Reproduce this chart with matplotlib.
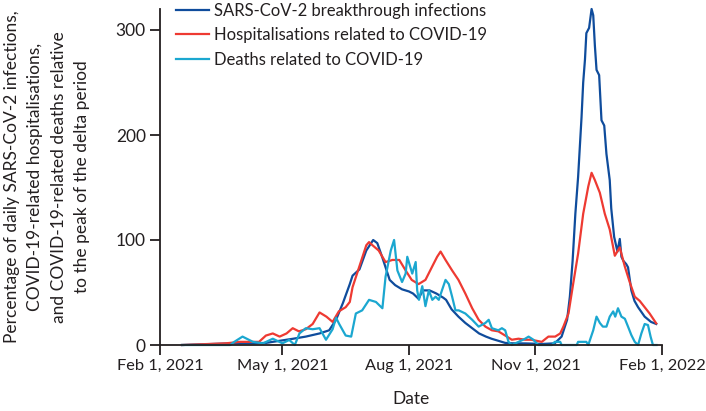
import matplotlib
matplotlib.use("Agg")
import matplotlib.pyplot as plt
import matplotlib.dates as mdates
import numpy as np
from datetime import datetime

# ---- data (days since 1 Feb 2021, percentage of delta peak) ----
inf_days = [16, 53, 68, 77, 87, 97, 106, 116, 123, 128, 133, 138, 140, 145, 150, 155, 158,
            162, 167, 171, 176, 181, 184, 188, 191, 196, 201, 206, 208, 212, 217, 222, 227,
            232, 237, 241, 246, 251, 256, 266, 278, 287, 292, 296, 298, 300, 302, 304, 305.4,
            306.5, 307.7, 309, 310, 312, 313.8, 315, 316.2, 317.4, 319.3, 321, 323, 324.6, 327,
            328.1, 330.2, 332.6, 334.3, 335.5, 337, 339, 340.3, 342.7, 345, 347.6, 352.4, 357,
            360.8]
inf_vals = [0, 1.6, 1.6, 2, 4, 6, 8, 11, 14, 24, 40, 58, 66, 72, 90, 100, 97,
            82, 62, 57, 53, 51, 49, 44, 52, 52, 49, 45, 43, 34, 27, 21, 16,
            11, 8, 6, 4, 2, 1.6, 1.5, 1, 1.6, 8, 24, 46, 80, 125, 160, 192,
            217, 250, 272, 297, 302, 320, 314, 285, 262, 257, 214, 209, 182, 157,
            130, 103, 89, 101, 84, 80, 77, 74, 52, 42, 36, 27, 22,
            20]

hosp_days = [16, 48, 58, 68, 72, 77, 82, 87, 92, 96.5, 101, 106, 111, 116, 121, 125.5, 130,
             135, 138, 140, 145, 150, 152, 154.5, 159, 164, 169, 174, 178.6, 183, 188, 193,
             198, 201.5, 204, 207.6, 212.4, 217, 222, 227, 231.7, 236.6, 241.3, 246, 251,
             255.8, 260.7, 265.5, 270, 277.6, 282.4, 287.3, 291, 293.3, 297, 300.5, 304,
             307.7, 311.4, 313.8, 316.2, 319.8, 323.4, 327, 330.7, 334.3, 337.9, 341.5,
             345.2, 348.8, 352.4, 356, 360.8]
hosp_vals = [0, 1.6, 3, 3, 3, 9, 11, 8, 11, 16, 13, 15, 20, 31, 27, 22, 32,
             36, 41, 55, 75, 95, 98, 95, 90, 79, 81, 81, 71, 62, 58, 62,
             75, 84, 89, 81, 71, 62, 49, 35, 24, 17.5, 14, 13, 9,
             5, 6, 5, 5, 3, 8, 8, 11, 17.5, 30, 59, 87,
             125, 151, 164, 157, 145, 125, 110, 85, 93, 75, 60,
             46, 42, 36, 30, 20.6]

death_days = [16, 51, 54, 60, 67.6, 75, 82, 89, 94, 98, 101.4, 106, 111, 116, 120.7, 125.5,
              128, 130.3, 135, 139, 142.4, 147, 152, 157, 161.7, 164, 167.8, 170.2, 172.6,
              176, 178.6, 179.8, 183.4, 185.9, 187, 188.3, 190.7, 193, 195.5, 198, 200.4,
              202.7, 205, 207.6, 210, 212.4, 214.8, 217.2, 222, 227, 231.7, 236.6, 239, 241.3,
              246, 248.6, 251, 253.4, 255.8, 260.7, 265.5, 268, 271.5, 275, 285, 287, 291, 292,
              303, 304, 310, 311.4, 315, 317.4, 319.8, 322, 324.6, 327, 329.5, 331, 333, 335.5,
              338, 340.3, 342.7, 345.2, 347.6, 350, 352.4, 354.8, 356.7, 358.4, 361]
death_vals = [0, 0, 3, 8, 3, 1.6, 6, 1.6, 4.8, 0, 11, 16, 15, 16, 5, 15,
              26, 20, 9, 8, 30, 33, 43, 41, 35, 65, 90, 100, 71,
              60, 68, 84, 68, 79, 52, 43, 56, 37, 52, 43, 46,
              43, 52, 62, 58, 46, 33, 33, 30, 24, 17.5, 21, 24, 16,
              14, 16, 14, 3, 0, 3, 6, 8, 5, 0, 0, 3, 3, 0,
              0, 3, 3, 0, 14, 27, 21, 17.5, 17.5, 27, 32, 27, 35, 27,
              25, 17.5, 9.5, 3, 0, 11, 20, 19, 8, 0, 0]

series_labels = ["SARS-CoV-2 breakthrough infections",
                 "Hospitalisations related to COVID-19",
                 "Deaths related to COVID-19"]
series_colors = ["#0f4c9c", "#ee3a32", "#1ba7d0"]

tick_dates = [datetime(2021, 2, 1), datetime(2021, 5, 1), datetime(2021, 8, 1),
              datetime(2021, 11, 1), datetime(2022, 2, 1)]
tick_labels = ["Feb 1, 2021", "May 1, 2021", "Aug 1, 2021", "Nov 1, 2021", "Feb 1, 2022"]
y_ticks = [0, 100, 200, 300]

ylabel_text = ("Percentage of daily SARS-CoV-2 infections,\n"
               "COVID-19-related hospitalisations,\n"
               "and COVID-19-related deaths relative\n"
               "to the peak of the delta period")

plt.rcParams['font.family'] = ['Lato', 'DejaVu Sans']
FS = 12.5
TXT = "#231f20"

fig = plt.figure(figsize=(7.06, 4.11), dpi=100)
ax = fig.add_axes([160 / 706, 1 - 345 / 411, (662 - 160) / 706, 336 / 411])

base = mdates.date2num(datetime(2021, 2, 1))
for d, v, lab, col in zip([inf_days, hosp_days, death_days],
                          [inf_vals, hosp_vals, death_vals],
                          series_labels, series_colors):
    ax.plot(base + np.array(d), v, color=col, lw=1.6, label=lab, clip_on=False)

ax.set_xlim(mdates.date2num(tick_dates[0]), mdates.date2num(tick_dates[-1]))
ax.set_ylim(0, 320)
ax.set_xticks([mdates.date2num(t) for t in tick_dates])
ax.set_xticklabels(tick_labels)
ax.set_yticks(y_ticks)
for s in ["top", "right"]:
    ax.spines[s].set_visible(False)
for s in ["left", "bottom"]:
    ax.spines[s].set_linewidth(1.3)
    ax.spines[s].set_color(TXT)
ax.tick_params(axis="both", direction="out", length=7.2, width=1.3, color=TXT,
               labelsize=FS, labelcolor=TXT, pad=3)
ax.tick_params(axis="x", labelsize=11.8)
ax.set_xlabel("Date", fontsize=FS, color=TXT, labelpad=13)

fig.text(47 / 706, 1 - 177 / 411, ylabel_text, rotation=90, ha="center", va="center",
         multialignment="center", fontsize=FS, color=TXT, linespacing=1.55)

leg = ax.legend(loc="upper left", bbox_to_anchor=(176 / 706, 0.993),
                bbox_transform=fig.transFigure, frameon=False, fontsize=12,
                handlelength=1.95, handletextpad=0.35, labelspacing=0.5,
                borderpad=0, borderaxespad=0)
for t in leg.get_texts():
    t.set_color(TXT)

fig.savefig("out.png", dpi=100)
